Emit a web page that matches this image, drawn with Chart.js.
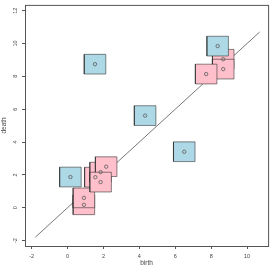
<!DOCTYPE html>
<html>
<head>
<meta charset="utf-8">
<script src="https://cdn.jsdelivr.net/npm/chart.js"></script>
<style>
  body { margin: 0; background: #fff; }
  #wrap { width: 273px; height: 273px; }
</style>
</head>
<body>
<div id="wrap"><canvas id="myChart" width="273" height="273"></canvas></div>
<script>
// points (birth, death)
const blueBirth = [1.53, 8.36, 4.32, 6.50, 0.16];
const blueDeath = [8.74, 9.84, 5.61, 3.41, 1.87];
const pinkBirth = [0.91, 0.91, 1.55, 1.84, 2.15, 1.84, 8.67, 8.67, 7.72];
const pinkDeath = [0.18, 0.60, 1.86, 2.17, 2.50, 1.56, 9.04, 8.44, 8.14];
const diagX = [-1.8, 10.7];
const diagY = [-1.8, 10.7];
const xTicks = [-2, 0, 2, 4, 6, 8, 10];
const yTicks = [-2, 0, 2, 4, 6, 8, 10, 12];

const half = 0.6; // half side of each box, in data units
const lineCol = '#555';
const font = 'Liberation Sans, Arial, sans-serif';

const box = (x, y) => [
  { x: x - half, y: y - half },
  { x: x + half, y: y - half },
  { x: x + half, y: y + half },
  { x: x - half, y: y + half },
  { x: x - half, y: y - half },
];

const squareSet = (x, y, fill, order) => ({
  type: 'line',
  data: box(x, y),
  showLine: true,
  fill: 'shape',
  backgroundColor: fill,
  borderColor: 'rgba(40,40,40,0.55)',
  borderWidth: 1,
  pointRadius: 0,
  tension: 0,
  order: order,
});

let datasets = [];

datasets.push({
  type: 'line',
  data: diagX.map((v, i) => ({ x: v, y: diagY[i] })),
  showLine: true,
  fill: false,
  borderColor: lineCol,
  borderWidth: 0.8,
  pointRadius: 0,
  order: 100,
});

for (let i = 0; i < pinkBirth.length; i++) {
  datasets.push(squareSet(pinkBirth[i], pinkDeath[i], '#FFC0CB', 60 - i));
}
for (let i = 0; i < blueBirth.length; i++) {
  datasets.push(squareSet(blueBirth[i], blueDeath[i], '#ADD8E6', 30 - i));
}

datasets.push({
  type: 'scatter',
  data: pinkBirth.map((v, i) => ({ x: v, y: pinkDeath[i] }))
    .concat(blueBirth.map((v, i) => ({ x: v, y: blueDeath[i] }))),
  pointStyle: 'circle',
  pointRadius: 1.7,
  backgroundColor: 'rgba(0,0,0,0)',
  borderColor: '#666',
  borderWidth: 0.9,
  order: 0,
});

const frame = {
  id: 'frame',
  beforeDatasetsDraw(chart) {
    const { ctx, chartArea: a } = chart;
    ctx.save();
    ctx.strokeStyle = lineCol;
    ctx.lineWidth = 1;
    ctx.strokeRect(a.left + 0.5, a.top + 0.5, a.right - a.left, a.bottom - a.top);
    ctx.restore();
  },
};

const config = {
  type: 'scatter',
  data: { datasets: datasets },
  plugins: [frame],
  options: {
    responsive: false,
    animation: false,
    events: [],
    layout: { padding: { top: 0, right: 1, bottom: 0, left: 0 } },
    plugins: { legend: { display: false }, tooltip: { enabled: false } },
    scales: {
      x: {
        type: 'linear',
        min: -2.37,
        max: 11.17,
        border: { display: false },
        grid: { drawOnChartArea: false, drawTicks: true, tickLength: 3, color: lineCol },
        ticks: { autoSkip: false, padding: 4, color: '#444', font: { family: font, size: 5.5 }, maxRotation: 0 },
        title: { display: true, text: 'birth', color: '#444', font: { family: font, size: 6.5 }, padding: { top: 0, bottom: 6 } },
        afterBuildTicks: s => { s.ticks = xTicks.map(v => ({ value: v })); },
        afterFit: s => { s.height = 27; s.paddingLeft = 0; s.paddingRight = 0; },
      },
      y: {
        type: 'linear',
        min: -2.33,
        max: 12.35,
        border: { display: false },
        grid: { drawOnChartArea: false, drawTicks: true, tickLength: 3, color: lineCol },
        ticks: { autoSkip: false, padding: 3.2, color: '#444', font: { family: font, size: 5.5 }, minRotation: 90, maxRotation: 90, crossAlign: 'center' },
        title: { display: true, text: 'death', color: '#444', font: { family: font, size: 6.5 }, padding: { top: 0, bottom: 0 } },
        afterBuildTicks: s => { s.ticks = yTicks.map(v => ({ value: v })); },
        afterFit: s => { s.width = 25; s.paddingTop = 0; s.paddingBottom = 0; },
      },
    },
  },
};

const myChart = new Chart(document.getElementById('myChart'), config);
</script>
</body>
</html>
